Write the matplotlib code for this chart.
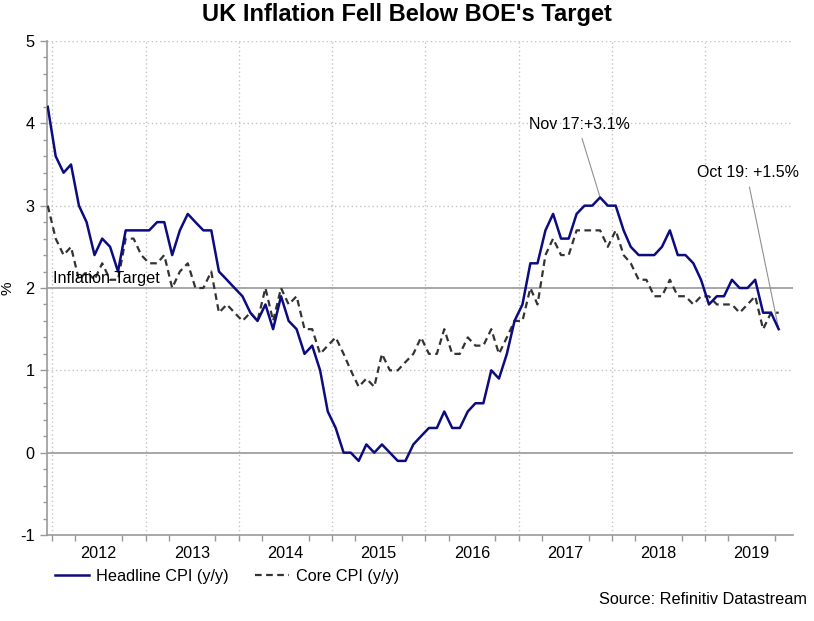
import matplotlib
matplotlib.use('Agg')
import matplotlib.pyplot as plt
import matplotlib.dates as mdates
import pandas as pd
from datetime import datetime
from matplotlib.ticker import FixedLocator, MultipleLocator
from matplotlib.lines import Line2D

plt.rcParams['font.family'] = ['Liberation Sans', 'DejaVu Sans']
plt.rcParams['axes.unicode_minus'] = False

# ---- data (monthly, Dec 2011 - Oct 2019) ----
first_month = '2011-12-01'
headline = [4.2,
            3.6, 3.4, 3.5, 3.0, 2.8, 2.4, 2.6, 2.5, 2.2, 2.7, 2.7, 2.7,
            2.7, 2.8, 2.8, 2.4, 2.7, 2.9, 2.8, 2.7, 2.7, 2.2, 2.1, 2.0,
            1.9, 1.7, 1.6, 1.8, 1.5, 1.9, 1.6, 1.5, 1.2, 1.3, 1.0, 0.5,
            0.3, 0.0, 0.0, -0.1, 0.1, 0.0, 0.1, 0.0, -0.1, -0.1, 0.1, 0.2,
            0.3, 0.3, 0.5, 0.3, 0.3, 0.5, 0.6, 0.6, 1.0, 0.9, 1.2, 1.6,
            1.8, 2.3, 2.3, 2.7, 2.9, 2.6, 2.6, 2.9, 3.0, 3.0, 3.1, 3.0,
            3.0, 2.7, 2.5, 2.4, 2.4, 2.4, 2.5, 2.7, 2.4, 2.4, 2.3, 2.1,
            1.8, 1.9, 1.9, 2.1, 2.0, 2.0, 2.1, 1.7, 1.7, 1.5]
core = [3.0,
        2.6, 2.4, 2.5, 2.1, 2.2, 2.1, 2.3, 2.1, 2.1, 2.6, 2.6, 2.4,
        2.3, 2.3, 2.4, 2.0, 2.2, 2.3, 2.0, 2.0, 2.2, 1.7, 1.8, 1.7,
        1.6, 1.7, 1.6, 2.0, 1.6, 2.0, 1.8, 1.9, 1.5, 1.5, 1.2, 1.3,
        1.4, 1.2, 1.0, 0.8, 0.9, 0.8, 1.2, 1.0, 1.0, 1.1, 1.2, 1.4,
        1.2, 1.2, 1.5, 1.2, 1.2, 1.4, 1.3, 1.3, 1.5, 1.2, 1.4, 1.6,
        1.6, 2.0, 1.8, 2.4, 2.6, 2.4, 2.4, 2.7, 2.7, 2.7, 2.7, 2.5,
        2.7, 2.4, 2.3, 2.1, 2.1, 1.9, 1.9, 2.1, 1.9, 1.9, 1.8, 1.9,
        1.9, 1.8, 1.8, 1.8, 1.7, 1.8, 1.9, 1.5, 1.7, 1.7]
years = [2012, 2013, 2014, 2015, 2016, 2017, 2018, 2019]
year_labels = ['2012', '2013', '2014', '2015', '2016', '2017', '2018', '2019']
target = 2.0
series_labels = ['Headline CPI (y/y)', 'Core CPI (y/y)']
peak_month = (2017, 11)
peak_label = 'Nov 17:+3.1%'
last_label = 'Oct 19: +1.5%'

dates = pd.date_range(first_month, periods=len(headline), freq='MS') + pd.Timedelta(days=14)

W, H = 814, 621
fig = plt.figure(figsize=(W / 100, H / 100), dpi=100)
ax = fig.add_axes([47 / W, 86 / H, 746 / W, 494 / H])

navy = '#0c0c80'
dark = '#333333'
grey = '#a0a0a0'
gridc = '#c4c4c4'

ax.set_ylim(-1, 5)
ax.set_xlim(datetime(2011, 12, 12), datetime(2019, 12, 10))

# grid lines
for yv in [1, 3, 4, 5]:
    ax.axhline(yv, color=gridc, lw=1.0, ls=(0, (1, 2)), zorder=1)
for y in years:
    ax.axvline(datetime(y, 1, 1), color=gridc, lw=1.0, ls=(0, (1, 2)), zorder=1)
ax.axhline(0, color=grey, lw=1.3, zorder=1)
ax.axhline(target, color=grey, lw=1.3, zorder=1)

ax.plot(dates, core, color=dark, lw=1.6, ls=(0, (3, 2)), zorder=3)
ax.plot(dates, headline, color=navy, lw=1.8, zorder=4)

# spines
for s in ['top', 'right']:
    ax.spines[s].set_visible(False)
for s in ['left', 'bottom']:
    ax.spines[s].set_color('#999999')
    ax.spines[s].set_linewidth(1.2)

# y ticks
ax.yaxis.set_major_locator(MultipleLocator(1))
ax.yaxis.set_minor_locator(MultipleLocator(0.2))
ax.tick_params(axis='y', which='major', length=5, width=1, color='#999999',
               labelsize=11.7, pad=4)
ax.tick_params(axis='y', which='minor', length=3, width=1, color='#999999')
ax.set_ylabel('%', fontsize=11, labelpad=0)
ax.yaxis.set_label_coords(-0.043, 0.5)

# x ticks: labels at mid-year, minor ticks at quarters
ax.xaxis.set_major_locator(FixedLocator([mdates.date2num(datetime(y, 7, 1)) for y in years]))
ax.set_xticklabels(year_labels)
quarters = [mdates.date2num(datetime(y, m, 1)) for y in years for m in (1, 4, 10)]
ax.xaxis.set_minor_locator(FixedLocator(quarters))
ax.tick_params(axis='x', which='major', length=0, labelsize=11.7, pad=8)
ax.tick_params(axis='x', which='minor', length=4, width=1, color='#999999')

# target label
ax.text(datetime(2012, 1, 5), target + 0.06, 'Inflation Target', fontsize=11.7,
        va='baseline', ha='left', zorder=5)

# annotations
ipk = [i for i, d in enumerate(dates) if (d.year, d.month) == peak_month][0]
ax.annotate(peak_label, xy=(dates[ipk], headline[ipk]),
            xytext=(datetime(2017, 8, 28), 3.99), textcoords='data',
            ha='center', va='center', fontsize=11.5, annotation_clip=False,
            arrowprops=dict(arrowstyle='-', color='#909090', lw=0.8,
                            shrinkA=3, shrinkB=0, relpos=(0.5, 0)))
ax.annotate(last_label, xy=(dates[-1], headline[-1]),
            xytext=(datetime(2019, 6, 17), 3.40), textcoords='data',
            ha='center', va='center', fontsize=11.5, annotation_clip=False,
            arrowprops=dict(arrowstyle='-', color='#909090', lw=0.8,
                            shrinkA=3, shrinkB=0, relpos=(0.5, 0)))

# title
fig.text(0.5, 1 - 14 / H, "UK Inflation Fell Below BOE's Target", ha='center', va='center',
         fontsize=17, fontweight='bold')

# legend
handles = [Line2D([], [], color=navy, lw=1.8),
           Line2D([], [], color=dark, lw=1.6, ls=(0, (3, 2)))]
fig.legend(handles, series_labels, loc='center left', bbox_to_anchor=(55 / W, 1 - 576 / H),
           ncol=2, frameon=False, fontsize=11.7, handlelength=2.1, handletextpad=0.45,
           columnspacing=1.6, borderpad=0, borderaxespad=0)

fig.text(807 / W, 1 - 600 / H, 'Source: Refinitiv Datastream', ha='right', va='center',
         fontsize=11.7)

fig.savefig('out.png', dpi=100)
